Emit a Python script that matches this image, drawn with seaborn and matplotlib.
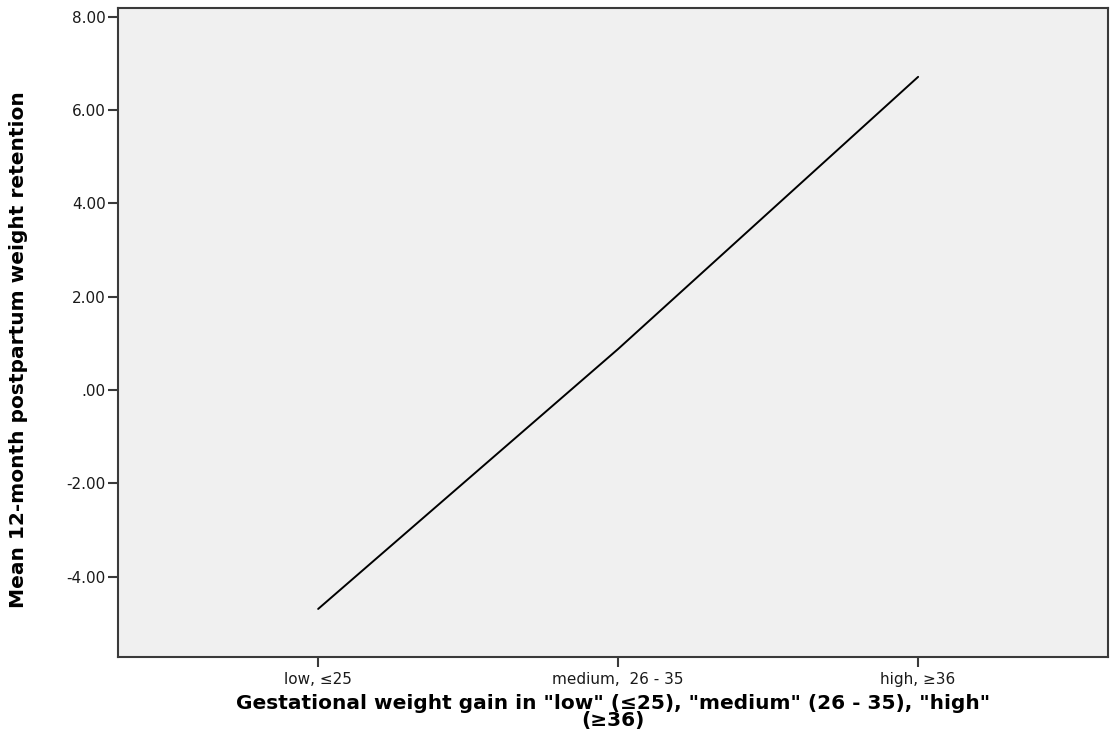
import matplotlib
matplotlib.use("Agg")
import matplotlib.pyplot as plt
import seaborn as sns
import pandas as pd
from matplotlib.ticker import FuncFormatter

# Values
categories = ["low, \u226425", "medium,  26 - 35", "high, \u226536"]
mean_retention = [-4.69, 0.88, 6.71]
y_ticks = [-4, -2, 0, 2, 4, 6, 8]

data = pd.DataFrame({"group": categories, "retention": mean_retention})

sns.set_style("white")
plt.rcParams["font.family"] = ["DejaVu Sans"]

fig = plt.figure(figsize=(11.2, 7.49), dpi=100)
ax = fig.add_axes([0.1054, 0.1228, 0.8839, 0.8665])

sns.lineplot(data=data, x="group", y="retention", color="black", linewidth=1.4, ax=ax, sort=False)

ax.set_facecolor("#f0f0f0")
ax.set_xlim(-0.667, 2.633)
ax.set_ylim(-5.72, 8.185)
ax.set_yticks(y_ticks)


def fmt(v, pos):
    s = f"{v:.2f}"
    if s.startswith("0"):
        s = s[1:]
    return s


ax.yaxis.set_major_formatter(FuncFormatter(fmt))

for side in ["left", "bottom", "right", "top"]:
    ax.spines[side].set_color("#3a3a3a")
    ax.spines[side].set_linewidth(1.5)

ax.tick_params(axis="both", direction="out", length=7, width=1.5, color="#3a3a3a",
               labelsize=11, labelcolor="#1a1a1a", left=True, bottom=True)
ax.tick_params(axis="y", pad=2)

ax.set_ylabel("Mean 12-month postpartum weight retention", fontsize=14.5, fontweight="bold",
              color="black", va="center")
ax.yaxis.set_label_coords(-0.101, 0.474)
ax.set_xlabel('Gestational weight gain in "low" (\u226425), "medium" (26 - 35), "high"\n(\u226536)',
              fontsize=14.5, fontweight="bold", color="black", labelpad=5, linespacing=0.9)

fig.savefig("out.png", dpi=100)
